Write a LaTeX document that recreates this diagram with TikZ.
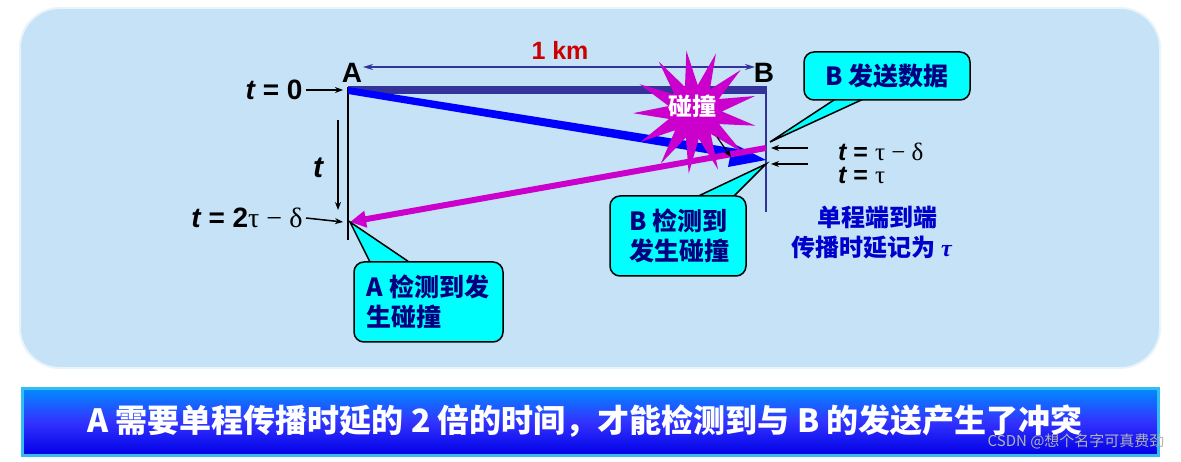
\documentclass[tikz,border=0pt]{standalone}
\usepackage{fontspec}
\setmainfont{Liberation Sans}
\newfontfamily\cjk{Noto Sans CJK SC}
\newfontfamily\grk{Liberation Serif}
\usetikzlibrary{arrows.meta,shapes.geometric}
\definecolor{bg}{HTML}{C5E2F6}
\definecolor{dblue}{HTML}{333399}
\definecolor{mag}{HTML}{CC00CC}
\definecolor{cy}{HTML}{00FFFF}
\definecolor{txb}{HTML}{000080}
\tikzset{
 lbl/.style={font=\bfseries\fontsize{28}{30}\selectfont},
 rlbl/.style={font=\bfseries\fontsize{25}{26}\selectfont,inner sep=0pt},
 callout/.style={fill=cy,draw=black,line width=1.5pt},
 ctext/.style={font=\cjk\bfseries\fontsize{25}{30}\selectfont,text=txb,align=left},
 blk/.style={-{Stealth[length=8pt,width=6pt]},line width=1.5pt}
}
\begin{document}
\begin{tikzpicture}[x=1pt,y=-1pt]
\useasboundingbox (0,0) rectangle (1181,462);
\fill[white] (0,0) rectangle (1181,462);
\draw[draw=white!60!bg,line width=2pt,fill=bg,rounded corners=40] (20,8) rectangle (1160,368);
\shade[top color=blue!45!cyan,bottom color=blue!90!black,middle color=blue!80,draw=cyan!80,line width=3pt] (22,388) rectangle (1158,455);
\node[text=white,font=\cjk\bfseries\fontsize{32}{34}\selectfont] (bar) at (585,421) {A 需要单程传播时延的 2 倍的时间，才能检测到与 B 的发送产生了冲突};
\node[text=gray!60!white,font=\cjk\fontsize{15}{16}\selectfont,anchor=east] (wm) at (1168,441) {CSDN @想个名字可真费劲};
% points
\coordinate (A0) at (348,90);
\coordinate (Ab) at (348,240);
\coordinate (Bb) at (766,212);
\coordinate (Bs) at (766,148);
\coordinate (Bt) at (766,160);
\coordinate (Ad) at (350,222);
% lines
\draw[dblue,line width=2.5pt] (766,88) -- (Bb);
\draw[dblue,line width=8pt] (A0) -- (767,90);
\draw[black,line width=2pt] (348,87) -- (Ab);
\fill[blue] (348,87) -- (738,149) -- (736,145) -- (Bt) -- (728,167) -- (730,157) -- (348,94) -- cycle;
\draw[mag,line width=6pt,-{Triangle[length=16pt,width=16pt]}] (Bs) -- (Ad);
\node[lbl,anchor=south] (A) at (352,86) {A};
\node[lbl,anchor=south] (B) at (764,86) {B};
\draw[dblue,line width=1.5pt,{Stealth[length=10pt,width=6pt]}-{Stealth[length=10pt,width=6pt]}] (363,67) -- (755,67);
\node[text=red!80!black,font=\bfseries\fontsize{25}{27}\selectfont] (km) at (560,50) {1 km};
% starburst
\node[star,star points=13,star point ratio=2.3,fill=mag,minimum size=124pt,inner sep=0pt,rotate=8] (burst) at (695,112) {};
\node[text=white,font=\cjk\bfseries\fontsize{24}{26}\selectfont] (pz) at (692,106) {碰撞};
\coordinate (bp) at (717,137);
\draw[blk,line width=1.2pt] (bp) -- (731,157);
% left labels
\node[lbl,anchor=east] (t0) at (306,90) {\itshape t\upshape{} = 0};
\draw[blk] (t0.east) -- (343,90);
\coordinate (tv1) at (338,120);
\coordinate (tv2) at (338,210);
\draw[blk] (tv1) -- (tv2);
\node[font=\bfseries\itshape\fontsize{30}{32}\selectfont] (tt) at (318,168) {t};
\node[lbl,anchor=east] (t2) at (306,218) {\itshape t\upshape{} = 2{\grk\mdseries τ − δ}};
\draw[blk] (t2.east) -- (343,222);
% right arrows
\coordinate (r1) at (808,148);
\coordinate (r2) at (808,164);
\draw[blk] (r1) -- (771,148);
\draw[blk] (r2) -- (771,164);
\node[rlbl,anchor=base west] (tr1) at (838,161) {\itshape t\upshape{} = {\grk\mdseries τ − δ}};
\node[rlbl,anchor=base west] (tr2) at (838,184) {\itshape t\upshape{} = {\grk\mdseries τ}};
\node[text=blue!80!black,font=\cjk\bfseries\fontsize{24}{30}\selectfont,align=left,anchor=west] (dl) at (788,233) {\hspace*{1.1em}单程端到端\\传播时延记为 {\grk\itshape τ}};
% callouts
\fill[callout] (840,96) -- (770,142) -- (870,96) -- cycle;
\draw[callout,rounded corners=10] (804,52) rectangle (970,100);
\node[ctext] (c1) at (887,76) {B 发送数据};
\fill[callout] (690,200) -- (766,164) -- (730,200) -- cycle;
\draw[callout,rounded corners=10] (610,196) rectangle (746,276);
\node[ctext] (c2) at (679,236) {B 检测到\\发生碰撞};
\fill[callout] (372,266) -- (350,222) -- (415,266) -- cycle;
\draw[callout,rounded corners=10] (354,262) rectangle (503,342);
\node[ctext] (c3) at (428,302) {A 检测到发\\生碰撞};
\end{tikzpicture}
\end{document}
